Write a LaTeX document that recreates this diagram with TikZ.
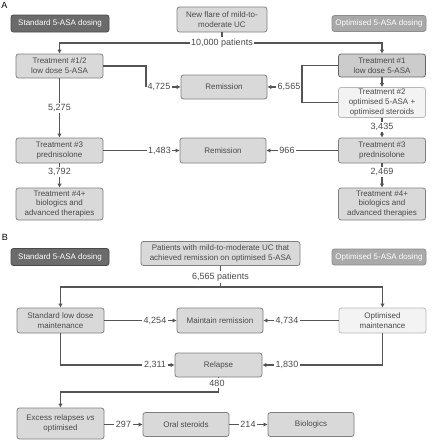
\documentclass[tikz,border=0pt]{standalone}
\usepackage{fontspec}
\setmainfont{Liberation Sans}
\usetikzlibrary{arrows.meta}
\definecolor{linec}{HTML}{555555}
\definecolor{boxfill}{HTML}{D9D9D9}
\definecolor{boxdraw}{HTML}{808080}
\definecolor{txt}{HTML}{4A4A4A}
\definecolor{darkfill}{HTML}{6B6B6B}
\definecolor{darkdraw}{HTML}{4A4A4A}
\definecolor{midfill}{HTML}{A9A9A9}
\definecolor{middraw}{HTML}{8E8E8E}
\definecolor{lightfill}{HTML}{F3F3F3}
\definecolor{lightdraw}{HTML}{B8B8B8}
\definecolor{tonefill}{HTML}{CCCCCC}
\definecolor{tonedraw}{HTML}{666666}
\begin{document}
\begin{tikzpicture}[x=1pt,y=-1pt,
  box/.style={draw=boxdraw, fill=boxfill, line width=0.8pt, rounded corners=2.5pt,
    align=center, text=txt, font=\fontsize{8}{9.8}\selectfont, inner sep=1pt,
    minimum width=87pt, minimum height=24pt},
  darkbox/.style={box, fill=darkfill, draw=darkdraw, text=white, minimum height=17pt},
  midbox/.style={box, fill=midfill, draw=middraw, text=white, minimum height=16pt},
  lightbox/.style={box, fill=lightfill, draw=lightdraw},
  tonebox/.style={box, fill=tonefill, draw=tonedraw},
  lab/.style={font=\fontsize{9}{10}\selectfont, text=txt, inner sep=1.5pt},
  panel/.style={font=\fontsize{9}{10}\selectfont, text=black, inner sep=0pt},
  ln/.style={draw=linec, line width=1.3pt},
  arr/.style={ln, -{Latex[length=4pt,width=4.5pt]}}
]
\useasboundingbox (0,0) rectangle (432,440);
\fill[white] (0,0) rectangle (432,440);

% ---------------- Panel A ----------------
\node[panel] (pA) at (4.5,5.5) {A};
\node[darkbox, minimum width=98pt] (stdA) at (60,23.5) {Standard 5-ASA dosing};
\node[box, minimum width=90pt, minimum height=25pt] (flare) at (222,19.5) {New flare of mild-to-\\moderate UC};
\node[midbox, minimum width=94pt] (optA) at (379,23.5) {Optimised 5-ASA dosing};

\node[box] (t12) at (59.5,66) {Treatment \#1/2\\low dose 5-ASA};
\node[box, minimum width=86pt] (remA1) at (224,87) {Remission};
\node[tonebox, minimum height=23pt] (t1R) at (382,65.5) {Treatment \#1\\low dose 5-ASA};
\node[lightbox, minimum height=30pt] (t2R) at (382,102.5) {Treatment \#2\\optimised 5-ASA +\\optimised steroids};

\node[box, minimum height=25pt] (t3L) at (59.5,150.5) {Treatment \#3\\prednisolone};
\node[box, minimum width=86pt, minimum height=25pt] (remA2) at (223,150.5) {Remission};
\node[box, minimum height=25pt] (t3R) at (382,150.5) {Treatment \#3\\prednisolone};

\node[box, minimum height=32pt] (t4L) at (59.5,204) {Treatment \#4+\\biologics and\\advanced therapies};
\node[box, minimum height=32pt] (t4R) at (382,204) {Treatment \#4+\\biologics and\\advanced therapies};

\node[lab] (l10k) at (222,43) {10,000 patients};
\node[lab] (l4725) at (159,87) {4,725};
\node[lab] (l6565) at (289,87) {6,565};
\node[lab] (l5275) at (59.5,108) {5,275};
\node[lab] (l3435) at (382,127) {3,435};
\node[lab] (l1483) at (159.5,150.5) {1,483};
\node[lab] (l966) at (287,150.5) {966};
\node[lab] (l3792) at (59.5,172) {3,792};
\node[lab] (l2469) at (382,172) {2,469};

\draw[ln] (flare.south) -- (l10k.north);
\draw[arr] (l10k.west) -| (t12.north);
\draw[arr] (l10k.east) -| (t1R.north);
\draw[ln] (t12.east) -| (l4725.west);
\draw[arr] (l4725.east) -- (remA1.west);
\draw[ln] (t1R.west) -| (l6565.east);
\draw[ln] (t2R.west) -| (l6565.east);
\draw[arr] (l6565.west) -- (remA1.east);
\draw[arr] (t1R.south) -- (t2R.north);
\draw[ln] (t2R.south) -- (l3435.north);
\draw[arr] (l3435.south) -- (t3R.north);
\draw[ln] (t12.south) -- (l5275.north);
\draw[arr] (l5275.south) -- (t3L.north);
\draw[ln] (t3L.east) -- (l1483.west);
\draw[arr] (l1483.east) -- (remA2.west);
\draw[ln] (t3R.west) -- (l966.east);
\draw[arr] (l966.west) -- (remA2.east);
\draw[ln] (t3L.south) -- (l3792.north);
\draw[arr] (l3792.south) -- (t4L.north);
\draw[ln] (t3R.south) -- (l2469.north);
\draw[arr] (l2469.south) -- (t4R.north);

% ---------------- Panel B ----------------
\node[panel] (pB) at (5,237) {B};
\node[darkbox, minimum width=98pt] (stdB) at (60,257) {Standard 5-ASA dosing};
\node[box, minimum width=159pt, minimum height=24pt] (pat) at (220.5,253.5) {Patients with mild-to-moderate UC that\\achieved remission on optimised 5-ASA};
\node[midbox, minimum width=94pt] (optB) at (379,257) {Optimised 5-ASA dosing};

\node[box, minimum height=25pt] (stdM) at (60.5,320.5) {Standard low dose\\maintenance};
\node[box, minimum width=86pt, minimum height=25pt] (maint) at (220,320.5) {Maintain remission};
\node[lightbox, minimum height=25pt] (optM) at (382.5,320.5) {Optimised\\maintenance};
\node[box] (rel) at (218.5,365) {Relapse};

\node[box, minimum height=31pt] (exc) at (60.5,423.5) {Excess relapses \textit{vs}\\optimised};
\node[box, minimum width=86pt] (oral) at (186,424.5) {Oral steroids};
\node[box, minimum width=86pt] (bio) at (311,424.5) {Biologics};

\node[lab] (l6565p) at (220.5,277) {6,565 patients};
\coordinate (jB) at (220.5,287);
\node[lab] (l4254) at (155,320.5) {4,254};
\node[lab] (l4734) at (287,320.5) {4,734};
\node[lab] (l2311) at (155,365) {2,311};
\node[lab] (l1830) at (287,365) {1,830};
\node[lab] (l480) at (217,383) {480};
\coordinate (jC) at (218.5,392);
\node[lab] (l297) at (123.5,424.5) {297};
\node[lab] (l214) at (248,424.5) {214};

\draw[ln] (pat.south) -- (l6565p.north);
\draw[ln] (l6565p.south) -- (jB);
\draw[arr] (jB) -| (stdM.north);
\draw[arr] (jB) -| (optM.north);
\draw[ln] (stdM.east) -- (l4254.west);
\draw[arr] (l4254.east) -- (maint.west);
\draw[ln] (optM.west) -- (l4734.east);
\draw[arr] (l4734.west) -- (maint.east);
\draw[ln] (stdM.south) |- (l2311.west);
\draw[arr] (l2311.east) -- (rel.west);
\draw[ln] (optM.south) |- (l1830.east);
\draw[arr] (l1830.west) -- (rel.east);
\draw[ln] (rel.south) -- (rel.south |- l480.north);
\draw[ln] (rel.south |- l480.south) -- (jC);
\draw[arr] (jC) -| (exc.north);
\draw[ln] (exc.east |- l297.west) -- (l297.west);
\draw[arr] (l297.east) -- (oral.west);
\draw[ln] (oral.east) -- (l214.west);
\draw[arr] (l214.east) -- (bio.west);
\end{tikzpicture}
\end{document}
